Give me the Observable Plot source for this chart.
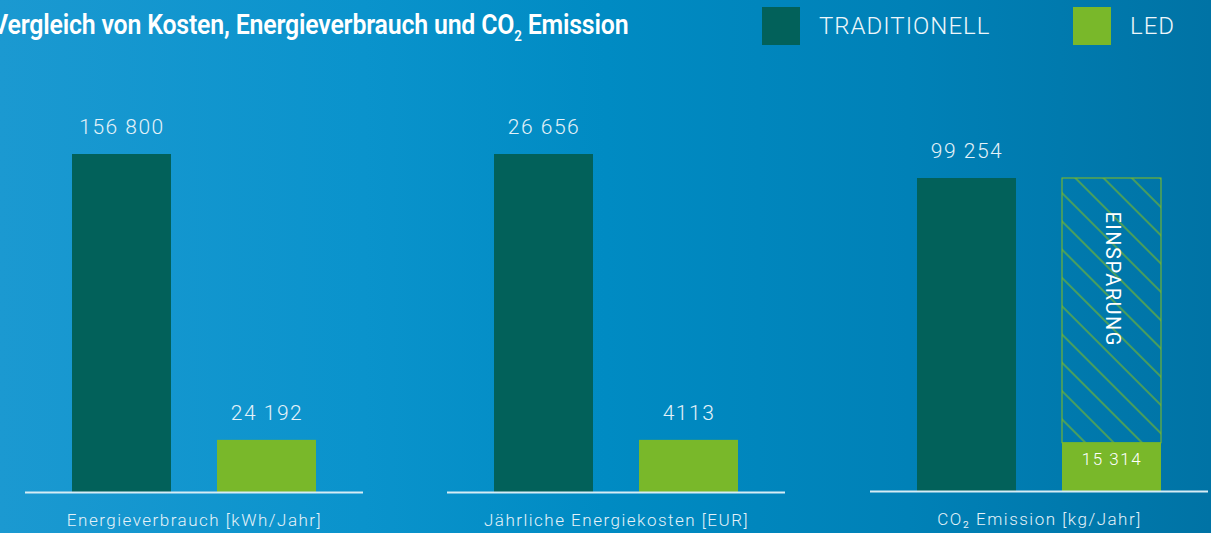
<!DOCTYPE html>
<html><head><meta charset="utf-8">
<script src="https://cdn.jsdelivr.net/npm/d3@7"></script>
<script src="https://cdn.jsdelivr.net/npm/@observablehq/plot@0.6"></script>
<style>
html,body{margin:0;padding:0;}
body{width:1211px;height:533px;overflow:hidden;}
#chart{position:relative;width:1211px;height:533px;overflow:hidden;
  background:linear-gradient(90deg,#1b99d1 0%,#0a93cc 30%,#008bc3 50%,#0081b7 75%,#0073a5 100%);
  font-family:Roboto,"Open Sans",sans-serif;color:#fff;}
#title{position:absolute;left:-8px;top:8px;font-size:28px;font-weight:600;white-space:nowrap;transform-origin:0 0;letter-spacing:-0.2px;}
#title sub{font-size:15px;vertical-align:-7px;line-height:0;}
.legend-item{position:absolute;top:7px;height:38px;display:flex;align-items:center;}
.legend-item .sw{width:38px;height:38px;margin-right:19px;}
.legend-item .lb{font-size:24px;font-weight:300;letter-spacing:1px;color:#eef7fb;}
.panel{position:absolute;top:100px;}
</style>
</head><body>
<div id="chart"></div>
<script>
// ---- data ----
const titleText = ["Vergleich von Kosten, Energieverbrauch und CO", "2", " Emission"];
const categories = ["TRADITIONELL", "LED"];
const colors = ["#02615a", "#79b82a"];
const metrics = ["Energieverbrauch [kWh/Jahr]", "Jährliche Energiekosten [EUR]", "CO₂ Emission [kg/Jahr]"];
const traditionell = [156800, 26656, 99254];
const led = [24192, 4113, 15314];
const savingLabel = "EINSPARUNG";
const savingPanel = 2;

// ---- layout ----
const chart = document.getElementById("chart");
const textColor = "#e4f2f9";
const panelLeft = [25, 447, 870];
const panelTop = 100;
const panelH = 433;
const panelW = 338;
const barTopPx = [154, 154, 178];
const baselinePx = [492, 492, 491];
const fmt = v => v >= 10000 ? d3.format(",")(v).replace(/,/g, " ") : String(v);

// title
const title = document.createElement("div");
title.id = "title";
title.innerHTML = titleText[0] + "<sub>" + titleText[1] + "</sub>" + titleText[2];
chart.appendChild(title);

// legend
const legendLeft = [762, 1073];
categories.forEach((c, j) => {
  const item = document.createElement("div");
  item.className = "legend-item";
  item.style.left = legendLeft[j] + "px";
  item.innerHTML = `<div class="sw" style="background:${colors[j]}"></div><div class="lb">${c}</div>`;
  chart.appendChild(item);
});

// panels
metrics.forEach((m, i) => {
  const data = categories.map((c, j) => ({cat: c, value: j === 0 ? traditionell[i] : led[i]}));
  const isSaving = i === savingPanel;
  const above = isSaving ? data.filter(d => d.cat === categories[0]) : data;
  const marks = [
    Plot.barY(data, {x: "cat", y: "value", fill: "cat"})
  ];
  if (isSaving) {
    marks.push(Plot.barY([{cat: categories[1], y1: led[i], y2: traditionell[i]}],
      {x: "cat", y1: "y1", y2: "y2", fill: "url(#hatch)", stroke: colors[1], strokeWidth: 1.1}));
    marks.push(Plot.text([{cat: categories[1], value: traditionell[i]}],
      {x: "cat", y: "value", text: () => savingLabel, rotate: 90, textAnchor: "start", lineAnchor: "middle",
       dy: 33, fill: "#ffffff", fontSize: 20, fontWeight: 400}));
    marks.push(Plot.text(data.filter(d => d.cat === categories[1]),
      {x: "cat", y: "value", text: d => fmt(d.value), dy: 16, lineAnchor: "middle",
       fill: "#ffffff", fontSize: 17, fontWeight: 300}));
  }
  marks.push(
    Plot.ruleY([0], {stroke: "#d6ecf5", strokeWidth: 2}),
    Plot.text(above, {x: "cat", y: "value", text: d => fmt(d.value), dy: -27, lineAnchor: "middle",
      fill: textColor, fontSize: 21, fontWeight: 300}),
    Plot.text([m], {frameAnchor: "bottom", text: d => d, dy: 28, lineAnchor: "middle",
      fill: textColor, fontSize: 17, fontWeight: 300})
  );
  const plot = Plot.plot({
    width: panelW, height: panelH,
    marginLeft: 0, marginRight: 0, marginTop: 0,
    marginBottom: panelH - (baselinePx[i] - panelTop),
    x: {domain: categories, padding: 0.32, axis: null},
    y: {domain: [0, traditionell[i]], range: [baselinePx[i] - panelTop, barTopPx[i] - panelTop], axis: null},
    color: {domain: categories, range: colors},
    style: {background: "transparent", overflow: "visible", fontFamily: "Roboto, 'Open Sans', sans-serif", letterSpacing: "1.5px"},
    marks
  });
  if (isSaving) {
    const defs = d3.select(plot).insert("defs", ":first-child");
    const pat = defs.append("pattern").attr("id", "hatch").attr("patternUnits", "userSpaceOnUse")
      .attr("width", 20).attr("height", 20).attr("patternTransform", "rotate(-45)");
    pat.append("line").attr("x1", 10).attr("y1", 0).attr("x2", 10).attr("y2", 20)
      .attr("stroke", colors[1]).attr("stroke-width", 1.2);
  }
  plot.classList.add("panel");
  plot.style.left = panelLeft[i] + "px";
  chart.appendChild(plot);
});

// fit title width (condensed look)
const w = title.offsetWidth;
title.style.transform = `scaleX(${636 / w})`;
</script>
</body></html>
